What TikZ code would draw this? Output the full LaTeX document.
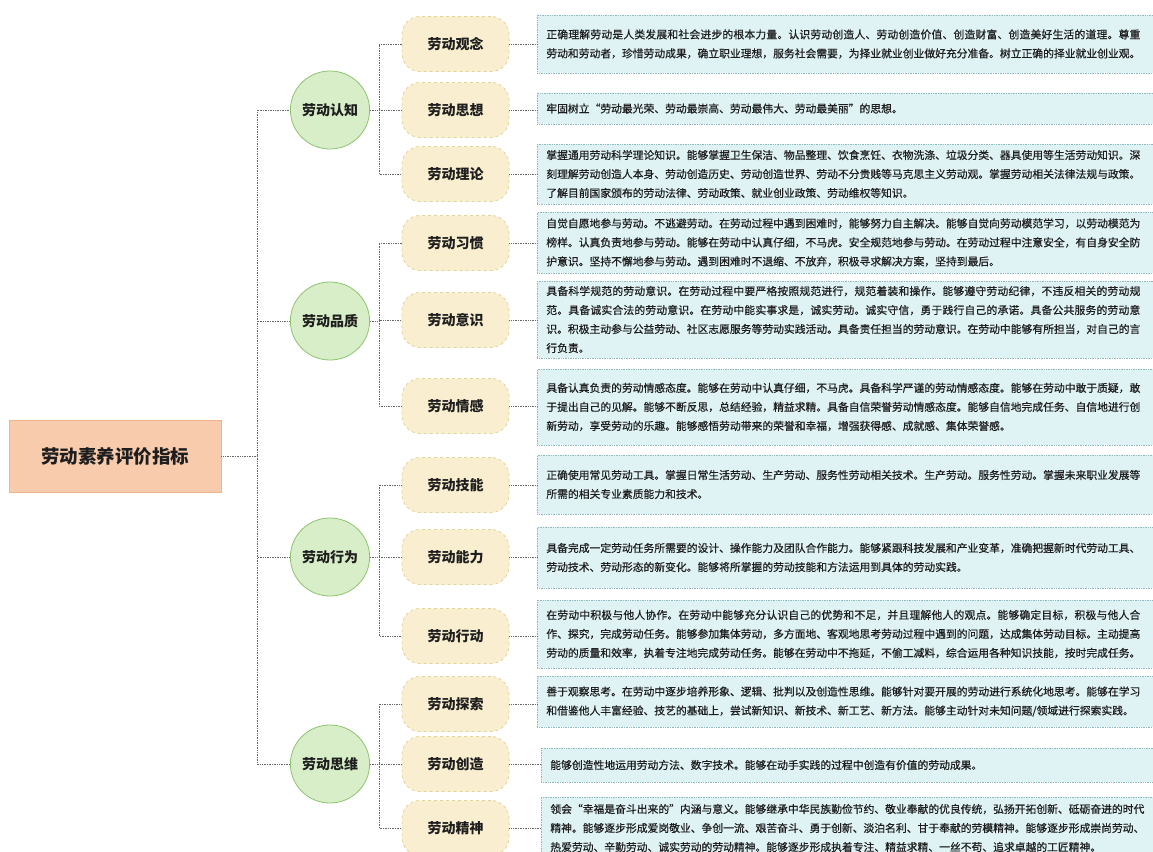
\documentclass[tikz,border=0pt]{standalone}
\usepackage{fontspec}
\setmainfont{Noto Sans CJK SC}
\newfontfamily\bodyfont[FakeBold=0.6]{Noto Sans CJK SC}
\usetikzlibrary{shapes.geometric}
\definecolor{rootfill}{HTML}{F8CBAD}
\definecolor{rootdraw}{HTML}{EDB58E}
\definecolor{greenfill}{HTML}{D8EEC9}
\definecolor{greendraw}{HTML}{8CC46E}
\definecolor{yellowfill}{HTML}{F9EFD0}
\definecolor{yellowdraw}{HTML}{E3D39C}
\definecolor{tealfill}{HTML}{DFF3F5}
\definecolor{tealdraw}{HTML}{8FBAC2}
\definecolor{conncol}{HTML}{666666}
\definecolor{txt}{HTML}{1E1E1E}
\makeatletter
\def\jl#1{\noindent\hbox to 594pt{\jl@aux#1\jl@end}}
\def\jl@aux#1#2\jl@end{#1\ifx\jl@end#2\jl@end\expandafter\@gobble\else\expandafter\@firstofone\fi{\hskip0pt plus 1fil\jl@aux#2\jl@end}}
\makeatother
\tikzset{
  rootbox/.style={draw=rootdraw, fill=rootfill, line width=0.8pt, minimum width=212pt, minimum height=72pt, inner sep=0pt, font=\fontsize{18.5}{22}\selectfont\bfseries, text=txt},
  lonenode/.style={ellipse, draw=greendraw, fill=greenfill, line width=0.8pt, minimum width=76pt, minimum height=78pt, inner sep=0pt, font=\fontsize{14}{16}\selectfont\bfseries, text=txt},
  ltwonode/.style={rounded corners=18pt, draw=yellowdraw, dashed, fill=yellowfill, line width=0.8pt, minimum width=107pt, minimum height=55pt, inner sep=0pt, font=\fontsize{14}{16}\selectfont\bfseries, text=txt},
  tbox/.style={draw=tealdraw, densely dotted, fill=tealfill, line width=0.7pt, anchor=west, text width=610pt, inner xsep=9pt, inner ysep=0pt, align=left, font=\bodyfont\fontsize{10.8}{19}\selectfont, text=txt},
  conn/.style={draw=conncol, densely dotted, line width=0.7pt},
}
\begin{document}
\begin{tikzpicture}[x=1pt,y=-1pt]
\path[use as bounding box, fill=white] (0,0) rectangle (1153,851);
\clip (0,0) rectangle (1153,851);

% root
\node[rootbox] (root) at (115,456) {劳动素养评价指标};

% level 1
\node[lonenode] (c1) at (330,110) {劳动认知};
\node[lonenode] (c2) at (330,321) {劳动品质};
\node[lonenode] (c3) at (330,557) {劳动行为};
\node[lonenode] (c4) at (330,764) {劳动思维};

% level 2
\node[ltwonode] (a1) at (455.5,44) {劳动观念};
\node[ltwonode] (a2) at (455.5,110) {劳动思想};
\node[ltwonode] (a3) at (455.5,174) {劳动理论};
\node[ltwonode] (a4) at (455.5,243) {劳动习惯};
\node[ltwonode] (a5) at (455.5,320) {劳动意识};
\node[ltwonode] (a6) at (455.5,406) {劳动情感};
\node[ltwonode] (a7) at (455.5,485) {劳动技能};
\node[ltwonode] (a8) at (455.5,557) {劳动能力};
\node[ltwonode] (a9) at (455.5,636) {劳动行动};
\node[ltwonode] (a10) at (455.5,704) {劳动探索};
\node[ltwonode] (a11) at (455.5,764) {劳动创造};
\node[ltwonode] (a12) at (455.5,828) {劳动精神};

% text boxes
\node[tbox, minimum height=58pt] (t1) at (537,44) {\jl{正确理解劳动是人类发展和社会进步的根本力量。认识劳动创造人、劳动创造价值、创造财富、创造美好生活的道理。尊重}\\\jl{劳动和劳动者，珍惜劳动成果，确立职业理想，服务社会需要，为择业就业创业做好充分准备。树立正确的择业就业创业观。}};
\node[tbox, minimum height=31pt] (t2) at (537,108.5) {牢固树立“劳动最光荣、劳动最崇高、劳动最伟大、劳动最美丽”的思想。};
\node[tbox, minimum height=60pt] (t3) at (537,174) {\jl{掌握通用劳动科学理论知识。能够掌握卫生保洁、物品整理、饮食烹饪、衣物洗涤、垃圾分类、器具使用等生活劳动知识。深}\\\jl{刻理解劳动创造人本身、劳动创造历史、劳动创造世界、劳动不分贵贱等马克思主义劳动观。掌握劳动相关法律法规与政策。}\\了解目前国家颁布的劳动法律、劳动政策、就业创业政策、劳动维权等知识。};
\node[tbox, minimum height=61pt] (t4) at (537,242.5) {\jl{自觉自愿地参与劳动。不逃避劳动。在劳动过程中遇到困难时，能够努力自主解决。能够自觉向劳动模范学习，以劳动模范为}\\\jl{榜样。认真负责地参与劳动。能够在劳动中认真仔细，不马虎。安全规范地参与劳动。在劳动过程中注意安全，有自身安全防}\\护意识。坚持不懈地参与劳动。遇到困难时不退缩、不放弃，积极寻求解决方案，坚持到最后。};
\node[tbox, minimum height=77pt] (t5) at (537,319.5) {\jl{具备科学规范的劳动意识。在劳动过程中要严格按照规范进行，规范着装和操作。能够遵守劳动纪律，不违反相关的劳动规}\\\jl{范。具备诚实合法的劳动意识。在劳动中能实事求是，诚实劳动。诚实守信，勇于践行自己的承诺。具备公共服务的劳动意}\\\jl{识。积极主动参与公益劳动、社区志愿服务等劳动实践活动。具备责任担当的劳动意识。在劳动中能够有所担当，对自己的言}\\行负责。};
\node[tbox, minimum height=76pt] (t6) at (537,407) {\jl{具备认真负责的劳动情感态度。能够在劳动中认真仔细，不马虎。具备科学严谨的劳动情感态度。能够在劳动中敢于质疑，敢}\\\jl{于提出自己的见解。能够不断反思，总结经验，精益求精。具备自信荣誉劳动情感态度。能够自信地完成任务、自信地进行创}\\新劳动，享受劳动的乐趣。能够感悟劳动带来的荣誉和幸福，增强获得感、成就感、集体荣誉感。};
\node[tbox, minimum height=59pt] (t7) at (537,484.5) {\jl{正确使用常见劳动工具。掌握日常生活劳动、生产劳动、服务性劳动相关技术。生产劳动。服务性劳动。掌握未来职业发展等}\\所需的相关专业素质能力和技术。};
\node[tbox, minimum height=61pt] (t8) at (537,557.5) {\jl{具备完成一定劳动任务所需要的设计、操作能力及团队合作能力。能够紧跟科技发展和产业变革，准确把握新时代劳动工具、}\\劳动技术、劳动形态的新变化。能够将所掌握的劳动技能和方法运用到具体的劳动实践。};
\node[tbox, minimum height=68pt] (t9) at (537,634) {\jl{在劳动中积极与他人协作。在劳动中能够充分认识自己的优势和不足，并且理解他人的观点。能够确定目标，积极与他人合}\\\jl{作、探究，完成劳动任务。能够参加集体劳动，多方面地、客观地思考劳动过程中遇到的问题，达成集体劳动目标。主动提高}\\\jl{劳动的质量和效率，执着专注地完成劳动任务。能够在劳动中不拖延，不偷工减料，综合运用各种知识技能，按时完成任务。}};
\node[tbox, minimum height=51pt] (t10) at (537,701.5) {\jl{善于观察思考。在劳动中逐步培养形象、逻辑、批判以及创造性思维。能够针对要开展的劳动进行系统化地思考。能够在学习}\\和借鉴他人丰富经验、技艺的基础上，尝试新知识、新技术、新工艺、新方法。能够主动针对未知问题/领域进行探索实践。};
\node[tbox, minimum height=34pt] (t11) at (541,765) {能够创造性地运用劳动方法、数字技术。能够在动手实践的过程中创造有价值的劳动成果。};
\node[tbox, minimum height=62pt] (t12) at (541,828) {\jl{领会“幸福是奋斗出来的”内涵与意义。能够继承中华民族勤俭节约、敬业奉献的优良传统，弘扬开拓创新、砥砺奋进的时代}\\\jl{精神。能够逐步形成爱岗敬业、争创一流、艰苦奋斗、勇于创新、淡泊名利、甘于奉献的劳模精神。能够逐步形成崇尚劳动、}\\热爱劳动、辛勤劳动、诚实劳动的劳动精神。能够逐步形成执着专注、精益求精、一丝不苟、追求卓越的工匠精神。};

% connectors root -> level 1
\coordinate (trunk) at (257,456);
\draw[conn] (root.east) -- (trunk);
\draw[conn] (trunk) |- (c1.west);
\draw[conn] (trunk) |- (c2.west);
\draw[conn] (trunk) |- (c3.west);
\draw[conn] (trunk) |- (c4.west);

% level 1 -> level 2
\coordinate (b1) at (379,110);
\coordinate (b2) at (379,321);
\coordinate (b3) at (379,557);
\coordinate (b4) at (379,764);
\draw[conn] (c1.east) -- (b1);
\draw[conn] (b1) |- (a1.west);
\draw[conn] (b1) |- (a2.west);
\draw[conn] (b1) |- (a3.west);
\draw[conn] (c2.east) -- (b2);
\draw[conn] (b2) |- (a4.west);
\draw[conn] (b2) |- (a5.west);
\draw[conn] (b2) |- (a6.west);
\draw[conn] (c3.east) -- (b3);
\draw[conn] (b3) |- (a7.west);
\draw[conn] (b3) |- (a8.west);
\draw[conn] (b3) |- (a9.west);
\draw[conn] (c4.east) -- (b4);
\draw[conn] (b4) |- (a10.west);
\draw[conn] (b4) |- (a11.west);
\draw[conn] (b4) |- (a12.west);

% level 2 -> text
\draw[conn] (a1.east) -- (a1.east -| t1.west);
\draw[conn] (a2.east) -- (a2.east -| t2.west);
\draw[conn] (a3.east) -- (a3.east -| t3.west);
\draw[conn] (a4.east) -- (a4.east -| t4.west);
\draw[conn] (a5.east) -- (a5.east -| t5.west);
\draw[conn] (a6.east) -- (a6.east -| t6.west);
\draw[conn] (a7.east) -- (a7.east -| t7.west);
\draw[conn] (a8.east) -- (a8.east -| t8.west);
\draw[conn] (a9.east) -- (a9.east -| t9.west);
\draw[conn] (a10.east) -- (a10.east -| t10.west);
\draw[conn] (a11.east) -- (a11.east -| t11.west);
\draw[conn] (a12.east) -- (a12.east -| t12.west);
\end{tikzpicture}
\end{document}
